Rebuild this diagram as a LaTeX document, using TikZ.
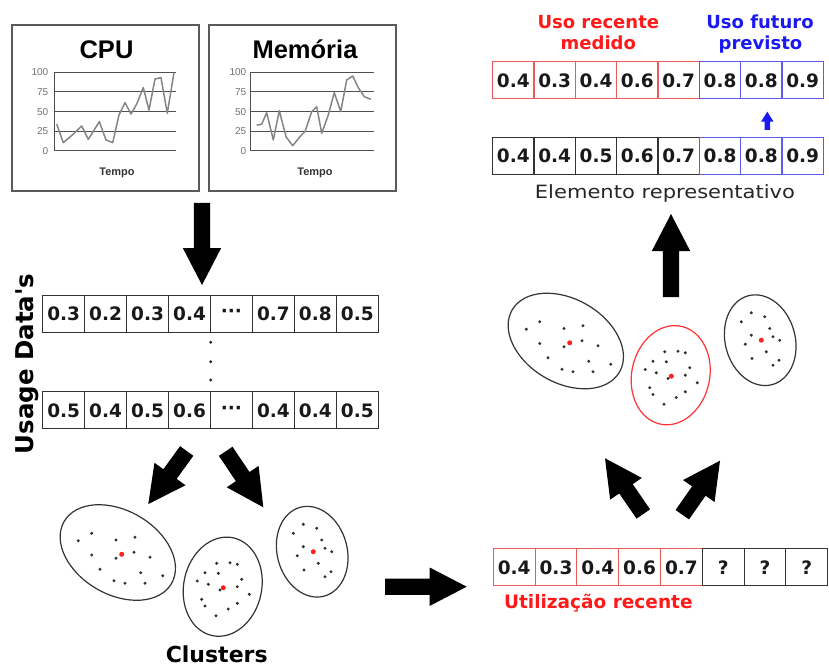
\documentclass[tikz,border=0pt]{standalone}
\usepackage{fontspec}
\setmainfont{DejaVu Sans}
\newfontfamily\arialf{Liberation Sans}
\newfontfamily\dvwide[FakeStretch=1.15]{DejaVu Sans}
\usetikzlibrary{calc,shapes.geometric}

\definecolor{cred}{HTML}{FF1A1A}
\definecolor{cellred}{HTML}{EE5A5A}
\definecolor{cblue}{HTML}{1A1AF0}
\definecolor{cellblue}{HTML}{5A5AF0}
\definecolor{boxgray}{HTML}{5A5A5A}
\definecolor{gridgray}{HTML}{505050}
\definecolor{datagray}{HTML}{858585}
\definecolor{labgray}{HTML}{707070}
\definecolor{dotgray}{HTML}{303030}
\definecolor{dotred}{HTML}{FF2020}

\tikzset{
  cell/.style={draw=black!80, line width=1.1pt, minimum width=41.9pt,
    minimum height=37pt, inner sep=0pt,
    font=\bfseries\fontsize{18.5}{20}\selectfont, text=black!90},
  redcell/.style={cell, draw=cellred},
  bluecell/.style={cell, draw=cellblue},
  chartbox/.style={draw=boxgray, line width=1.5pt},
  gridline/.style={draw=gridgray, line width=1pt},
  dataline/.style={draw=datagray, line width=1.5pt, line join=round},
  axlab/.style={anchor=east, inner sep=0pt, text=labgray,
    font=\arialf\fontsize{10}{10}\selectfont},
  charttitle/.style={anchor=base, inner sep=0pt,
    font=\arialf\bfseries\fontsize{25.5}{26}\selectfont},
  tempolab/.style={anchor=base, inner sep=0pt, text=black!80,
    font=\arialf\bfseries\fontsize{11}{11}\selectfont},
  bigtext/.style={anchor=base, inner sep=0pt, font=\bfseries\fontsize{18}{20}\selectfont},
  clu/.style={ellipse, draw=black!80, line width=1.2pt, inner sep=0pt},
  pt/.style={circle, fill=dotgray, inner sep=0pt, minimum size=3.3pt},
  cdot/.style={circle, fill=dotred, inner sep=0pt, minimum size=5pt},
  vdot/.style={circle, fill=black!85, inner sep=0pt, minimum size=3.2pt},
  barrow/.style n args={3}{to path={
    -- ($(\tikztostart)!#1!90:(\tikztotarget)$)
    -- ($(\tikztotarget)!#3!(\tikztostart)!#1!90:(\tikztotarget)$)
    -- ($(\tikztotarget)!#3!(\tikztostart)!#2!90:(\tikztotarget)$)
    -- (\tikztotarget)
    -- ($(\tikztotarget)!#3!(\tikztostart)!#2!-90:(\tikztotarget)$)
    -- ($(\tikztotarget)!#3!(\tikztostart)!#1!-90:(\tikztotarget)$)
    -- ($(\tikztostart)!#1!-90:(\tikztotarget)$)
    -- cycle}},
  bigarrow/.style={barrow={8.2pt}{19.2pt}{37pt}},
  smallarrow/.style={barrow={2.7pt}{6.3pt}{10pt}},
  pics/clusters/.style={code={
    \node[clu, minimum width=124pt, minimum height=84pt, rotate=-30] (-e1) at (77.8,62.5) {};
    \node[clu, draw=#1, minimum width=78pt, minimum height=100pt, rotate=-12] (-e2) at (182.7,96.7) {};
    \node[clu, minimum width=70pt, minimum height=92pt, rotate=15] (-e3) at (272.2,61.7) {};
    \foreach \p [count=\k] in {(38.3,50.7),(51.7,43.3),(76,50),(95,47.3),(51.7,65),(76,68.3),
        (94,62.3),(110,67.3),(60,79.3),(100.7,82.7),(122.7,85.7),(74,90.7),(85,93.3),(105,93.3)}
      \node[pt] (-a\k) at \p {};
    \foreach \p [count=\k] in {(176.7,73.3),(190,72.7),(197.3,74.3),(165,82.7),(178.3,83.3),
        (157.3,91),(168.3,94.3),(201.7,89.3),(180,100),(197.3,96.7),(209.3,104.3),(161.7,109.3),
        (165,116),(188.3,119),(197.3,113.3),(176,125.7)}
      \node[pt] (-b\k) at \p {};
    \foreach \p [count=\k] in {(263.3,34.3),(276.7,38.3),(253.3,43.3),(281.7,50),(263.3,56.7),
        (285,58.3),(291.7,61.7),(257.3,65.7),(278.3,73.3),(264,80),(291,81.7),(285,86.7)}
      \node[pt] (-c\k) at \p {};
    \node[cdot] (-r1) at (81.7,64.3) {};
    \node[cdot] (-r2) at (183.3,97.7) {};
    \node[cdot] (-r3) at (273.3,61.7) {};
  }},
  pics/clusters/.default={black!80}
}

\begin{document}
\begin{tikzpicture}[x=1pt,y=-1pt]
\useasboundingbox (0,0) rectangle (829,668);

% ---------- charts ----------
\node[chartbox, minimum width=187pt, minimum height=166pt, inner sep=0pt] (cpubox) at (105.5,108) {};
\node[chartbox, minimum width=187pt, minimum height=166pt, inner sep=0pt] (membox) at (302.5,108) {};
\node[charttitle] (cputitle) at (106.5,58.3) {CPU};
\node[charttitle] (memtitle) at (305,58.3) {Memória};
\node[tempolab] (cputempo) at (117,175.5) {Tempo};
\node[tempolab] (memtempo) at (315,175.5) {Tempo};

\begin{scope}[shift={(0,151)}, yscale=-0.787]
  \foreach \v in {0,25,50,75,100} {
    \draw[gridline] (54,\v) -- (176,\v);
    \node[axlab] (cpul\v) at (48.5,\v) {\v};
    \draw[gridline] (250.7,\v) -- (374,\v);
    \node[axlab] (meml\v) at (246.5,\v) {\v};
  }
  \draw[gridline] (54,0) -- (54,100);
  \draw[gridline] (250.7,0) -- (250.7,100);
  \draw[dataline] plot coordinates {(56.7,34) (63.3,10.6) (72,20) (81.7,31.8) (88.3,14.8)
    (99.3,37.3) (106,14) (112.7,10.6) (119,45.8) (125,61.4) (131,47) (136.7,59.7)
    (143.3,80.5) (149,52) (155,91.5) (161,93.2) (167.3,47.9) (174,99.6)};
  \draw[dataline] plot coordinates {(256.7,33) (261.7,34) (266.7,48.7) (273.3,14)
    (279.3,51.3) (286,18.2) (292.7,6.8) (300,18.2) (305,24.6) (311.7,50) (316.7,56.4)
    (321.7,22.5) (328.3,45.8) (334.3,74.2) (340.7,50) (346.7,90.3) (352.7,95.3)
    (358.3,80.5) (364.3,69) (370.7,65.7)};
\end{scope}

% ---------- usage data rows ----------
\foreach \t [count=\i] in {0.3,0.2,0.3,0.4,···,0.7,0.8,0.5}
  \node[cell, minimum width=41.95pt] (ua\i) at ({42.7+41.95*(\i-0.5)},313.7) {\t};
\foreach \t [count=\i] in {0.5,0.4,0.5,0.6,···,0.4,0.4,0.5}
  \node[cell, minimum width=41.95pt] (ub\i) at ({42.7+41.95*(\i-0.5)},410.3) {\t};
\node[vdot] (vd1) at (210.7,342.3) {};
\node[vdot] (vd2) at (210.7,361.7) {};
\node[vdot] (vd3) at (210.7,380) {};
\node[rotate=90, anchor=base, inner sep=0pt, font=\bfseries\fontsize{24.5}{26}\selectfont]
  (usage) at (33,364) {Usage Data\textquotesingle s};

% ---------- clusters ----------
\pic (L) at (40,490) {clusters};
\pic (R) at (488,278.5) {clusters={red!80}};
\node[anchor=base, inner sep=0pt, font=\bfseries\fontsize{22}{24}\selectfont]
  (clusters) at (216.7,662) {Clusters};

% ---------- recent usage row ----------
\foreach \t [count=\i] in {0.4,0.3,0.4,0.6,0.7}
  \node[redcell, minimum width=41.8pt] (rc\i) at ({493.3+41.8*(\i-0.5)},567.3) {\t};
\foreach \t [count=\i from 6] in {?,?,?}
  \node[cell, minimum width=41.8pt] (rc\i) at ({493.3+41.8*(\i-0.5)},567.3) {\t};
\node[bigtext, text=cred, font=\bfseries\fontsize{18.5}{20}\selectfont]
  (utl) at (598.3,608) {Utilização recente};

% ---------- top right rows ----------
\foreach \t [count=\i] in {0.4,0.3,0.4,0.6,0.7}
  \node[redcell, minimum width=41.33pt] (ta\i) at ({492.7+41.33*(\i-0.5)},80.3) {\t};
\foreach \t [count=\i from 6] in {0.8,0.8,0.9}
  \node[bluecell, minimum width=41.33pt] (ta\i) at ({492.7+41.33*(\i-0.5)},80.3) {\t};
\foreach \t [count=\i] in {0.4,0.4,0.5,0.6,0.7}
  \node[cell, minimum width=41.33pt] (tb\i) at ({492.7+41.33*(\i-0.5)},156.2) {\t};
\foreach \t [count=\i from 6] in {0.8,0.8,0.9}
  \node[bluecell, minimum width=41.33pt] (tb\i) at ({492.7+41.33*(\i-0.5)},156.2) {\t};

\node[bigtext, text=cred] (ur1) at (598.3,28.3) {Uso recente};
\node[bigtext, text=cred] (ur2) at (598.3,50) {medido};
\node[bigtext, text=cblue] (uf1) at (760,28.3) {Uso futuro};
\node[bigtext, text=cblue] (uf2) at (760.5,50) {previsto};
\node[anchor=base, inner sep=0pt, text=black!85, font=\dvwide\fontsize{18.3}{20}\selectfont]
  (elem) at (665,198.3) {Elemento representativo};

% ---------- block arrows ----------
\coordinate (a1s) at (202,203);     \coordinate (a1t) at (202,285);
\coordinate (a2s) at (186.7,451);   \coordinate (a2t) at (148.3,504);
\coordinate (a3s) at (225.7,451.3); \coordinate (a3t) at (263.3,507.3);
\coordinate (a4s) at (385,586.7);   \coordinate (a4t) at (466.7,586.7);
\coordinate (a5s) at (643.3,514);   \coordinate (a5t) at (605,458.3);
\coordinate (a6s) at (682.3,514.7); \coordinate (a6t) at (720,460.7);
\coordinate (a7s) at (671,297);     \coordinate (a7t) at (671,214);
\coordinate (a8s) at (767.3,130);   \coordinate (a8t) at (767.3,111.7);

\fill[black] (a1s) to[bigarrow] (a1t);
\fill[black] (a2s) to[bigarrow] (a2t);
\fill[black] (a3s) to[bigarrow] (a3t);
\fill[black] (a4s) to[bigarrow] (a4t);
\fill[black] (a5s) to[bigarrow] (a5t);
\fill[black] (a6s) to[bigarrow] (a6t);
\fill[black] (a7s) to[bigarrow] (a7t);
\fill[cblue] (a8s) to[smallarrow] (a8t);
\end{tikzpicture}
\end{document}
